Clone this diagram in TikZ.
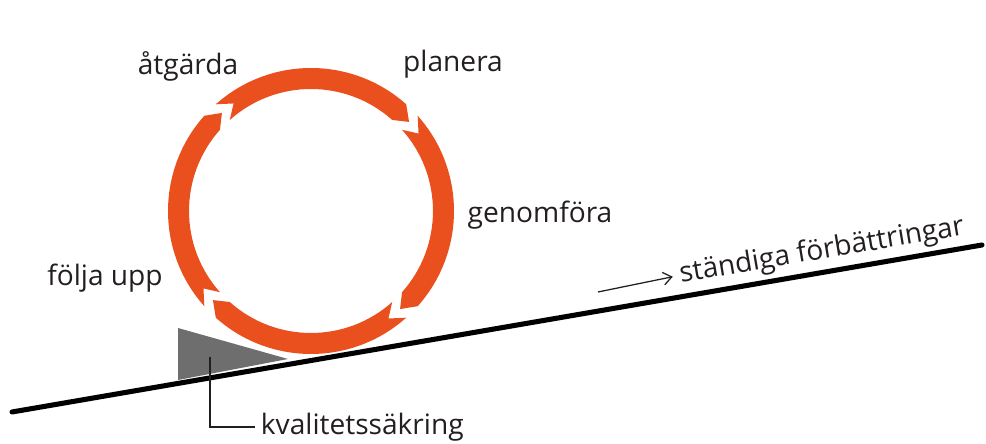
\documentclass[tikz,border=0pt]{standalone}
\usepackage{fontspec}
\setmainfont{Open Sans}
\usepackage{tikz}
\usetikzlibrary{arrows.meta, calc}
\definecolor{ringorange}{HTML}{E9501E}
\definecolor{chockgray}{HTML}{6E6E6E}
\definecolor{textgray}{HTML}{231F20}

\begin{document}
\begin{tikzpicture}[
    x=0.025cm, y=0.025cm,
    lbl/.style={font=\fontsize{20}{24}\selectfont, text=textgray, inner sep=1pt},
    ringpart/.style={fill=ringorange},
    ground/.style={line width=3.6pt, line cap=round, color=black},
    leader/.style={line width=0.9pt, color=textgray},
    arr/.style={-{Straight Barb[length=6pt, width=9pt]}, line width=0.9pt, color=textgray},
]
    \useasboundingbox (0,0) rectangle (986,444);
    \coordinate (C) at (311,233);
    \def\ro{143} \def\ri{122} \def\rm{132.5} \def\gp{6.5} \def\nt{6}

    % PDCA ring, four arrow segments going clockwise
    \foreach \a/\b in {135/45, 45/-45, -45/-135, -135/-225}
        \fill[ringpart] ($(C)+(\a-\gp/2:\ro)$) arc[start angle=\a-\gp/2, end angle=\b+\gp/2, radius=\ro]
            -- ($(C)+(\b+\gp/2-\nt:\rm)$) -- ($(C)+(\b+\gp/2:\ri)$)
            arc[start angle=\b+\gp/2, end angle=\a-\gp/2, radius=\ri]
            -- ($(C)+(\a-\gp/2-\nt:\rm)$) -- cycle;

    \node[lbl] (atgarda) at (188,378) {åtgärda};
    \node[lbl] (planera) at (453,380) {planera};
    \node[lbl] (genomfora) at (540,229) {genomföra};
    \node[lbl] (folja) at (105,166) {följa upp};

    % slope and wedge
    \coordinate (g0) at (12,32);
    \coordinate (g1) at (982,199);
    \draw[ground] (g0) -- (g1);
    \fill[chockgray] (178,116) -- (178,64) -- (288,85) -- cycle;

    \coordinate (chock) at (210,87);
    \node[lbl, anchor=west, inner xsep=4pt] (kval) at (255,17) {kvalitetssäkring};
    \draw[leader] (chock) |- (kval.west);

    \node[lbl, anchor=base west, rotate=9.6, inner xsep=5pt] (stand) at (674,160) {ständiga förbättringar};
    \coordinate (arrtail) at (598,152);
    \draw[arr] (arrtail) -- (stand.west);
\end{tikzpicture}
\end{document}
